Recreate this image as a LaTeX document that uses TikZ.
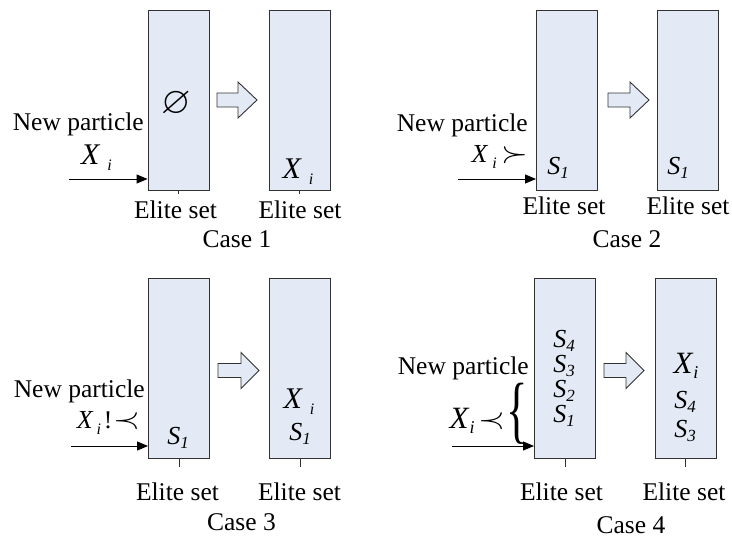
\RequirePackage{fix-cm}
\documentclass[tikz,border=0pt]{standalone}
\usepackage{amssymb}
\usepackage{fontspec}
\setmainfont{Liberation Serif}
\usetikzlibrary{arrows.meta,decorations.pathreplacing}
\definecolor{boxfill}{RGB}{228,234,245}
\definecolor{edgegray}{RGB}{50,50,50}
\newcommand{\myXi}[2][4pt]{{\fontsize{#2}{#2}\selectfont\textit{X}}\hspace{#1}\raisebox{-6pt}{\fontsize{16}{16}\selectfont\textit{i}}}
\newcommand{\myS}[1]{{\fontsize{26}{26}\selectfont\textit{S}}\raisebox{-4pt}{\fontsize{17}{17}\selectfont\textit{#1}}}
\newcommand{\bigsucc}{\scalebox{1.35}[1.15]{$\succ$}}
\newcommand{\bigprec}{\scalebox{1.35}[1.15]{$\prec$}}
\newcommand{\blockarrow}[4]{%
  \draw[bigarrow] (#1,#4-7) -- (#2,#4-7) -- (#2,#4-18) -- (#3,#4) -- (#2,#4+18) -- (#2,#4+7) -- (#1,#4+7) -- cycle;}
\begin{document}
\begin{tikzpicture}[x=1pt,y=-1pt,
  setbox/.style={draw=edgegray, fill=boxfill, line width=0.9pt, minimum width=61pt, minimum height=180pt, inner sep=0pt},
  lbl/.style={font=\fontsize{25.5}{30}\selectfont, inner sep=0pt},
  feed/.style={-{Triangle[length=11pt,width=9pt]}, line width=0.9pt},
  tickline/.style={draw=edgegray, line width=0.9pt},
  bigarrow/.style={draw=edgegray, fill=boxfill, line width=0.9pt, line join=miter}]
\useasboundingbox (0,0) rectangle (732,538);

% ---------------- Case 1 ----------------
\node[setbox] (c1a) at (178.5,100) {};
\node[setbox] (c1b) at (299.5,100) {};
\blockarrow{217}{238}{257}{100}
\node[lbl, font=\fontsize{38}{38}\selectfont] (c1e) at (176.5,104) {$\varnothing$};
\node[lbl] (c1bx) at (298,172) {\myXi[7pt]{30}};
\node[lbl, anchor=east] (c1np) at (144,124) {New particle};
\node[lbl] (c1x) at (96.5,158) {\myXi[7pt]{30}};
\coordinate (c1f) at (69,179);
\draw[feed] (c1f) -- (c1f -| c1a.west);
\coordinate (c1ta) at (178.5,194);
\coordinate (c1tb) at (299.5,194);
\draw[tickline] (c1a.south) -- (c1ta);
\draw[tickline] (c1b.south) -- (c1tb);
\node[lbl] (c1la) at (175.5,209.5) {Elite set};
\node[lbl] (c1lb) at (300,209.5) {Elite set};
\node[lbl] (c1case) at (237,239) {Case 1};

% ---------------- Case 2 ----------------
\node[setbox] (c2a) at (567,100) {};
\node[setbox] (c2b) at (687.5,100) {};
\blockarrow{608}{630}{649}{100}
\node[lbl] (c2s) at (558,168) {\myS{1}};
\node[lbl] (c2bs) at (678,168) {\myS{1}};
\node[lbl, anchor=east] (c2np) at (528,125) {New particle};
\node[lbl] (c2x) at (500,157) {\myXi[4pt]{26}\hspace{5pt}\bigsucc};
\coordinate (c2f) at (458,179);
\draw[feed] (c2f) -- (c2f -| c2a.west);
\node[lbl] (c2la) at (564,206) {Elite set};
\node[lbl] (c2lb) at (688,206) {Elite set};
\node[lbl] (c2case) at (627,239) {Case 2};

% ---------------- Case 3 ----------------
\node[setbox] (c3a) at (179,368) {};
\node[setbox] (c3b) at (300,368) {};
\blockarrow{218}{241}{259}{370.5}
\node[lbl] (c3s) at (178,438) {\myS{1}};
\node[lbl] (c3bx) at (299,402) {\myXi[7pt]{30}};
\node[lbl] (c3bs) at (300,434) {\myS{1}};
\node[lbl, anchor=east] (c3np) at (145,391) {New particle};
\node[lbl] (c3x) at (108.5,423) {\myXi[3pt]{26}\hspace{3pt}!\hspace{1pt}\bigprec};
\coordinate (c3f) at (71,446);
\draw[feed] (c3f) -- (c3f -| c3a.west);
\coordinate (c3ta) at (179,467);
\coordinate (c3tb) at (300,467);
\draw[tickline] (c3a.south) -- (c3ta);
\draw[tickline] (c3b.south) -- (c3tb);
\node[lbl] (c3la) at (177.5,491.5) {Elite set};
\node[lbl] (c3lb) at (299.5,491.5) {Elite set};
\node[lbl] (c3case) at (241.5,522) {Case 3};

% ---------------- Case 4 ----------------
\node[setbox] (c4a) at (565,368) {};
\node[setbox] (c4b) at (685.5,368) {};
\blockarrow{604}{626}{644}{370.5}
\node[lbl] (c4s4) at (564,341) {\myS{4}};
\node[lbl] (c4s3) at (564,366) {\myS{3}};
\node[lbl] (c4s2) at (564,391) {\myS{2}};
\node[lbl] (c4s1) at (564,416) {\myS{1}};
\node[lbl] (c4bx) at (686,366) {{\fontsize{31}{31}\selectfont\textit{X}}\raisebox{-5pt}{\fontsize{18}{18}\selectfont\textit{i}}};
\node[lbl] (c4bs4) at (685,402) {\myS{4}};
\node[lbl] (c4bs3) at (685,431) {\myS{3}};
\node[lbl, anchor=east] (c4np) at (529,368) {New particle};
\node[lbl] (c4x) at (477.5,421) {{\fontsize{31}{31}\selectfont\textit{X}}\raisebox{-5pt}{\fontsize{18}{18}\selectfont\textit{i}}\hspace{4pt}\bigprec};
\node[inner sep=0pt] (c4br) at (517,414) {\scalebox{0.6}[1]{\fontsize{74}{74}\selectfont\{}};
\coordinate (c4f) at (452,446);
\draw[feed] (c4f) -- (c4f -| c4a.west);
\coordinate (c4ta) at (565,467);
\coordinate (c4tb) at (685.5,467);
\draw[tickline] (c4a.south) -- (c4ta);
\draw[tickline] (c4b.south) -- (c4tb);
\node[lbl] (c4la) at (561.5,491.5) {Elite set};
\node[lbl] (c4lb) at (684,491.5) {Elite set};
\node[lbl] (c4case) at (631,525.5) {Case 4};
\end{tikzpicture}
\end{document}
